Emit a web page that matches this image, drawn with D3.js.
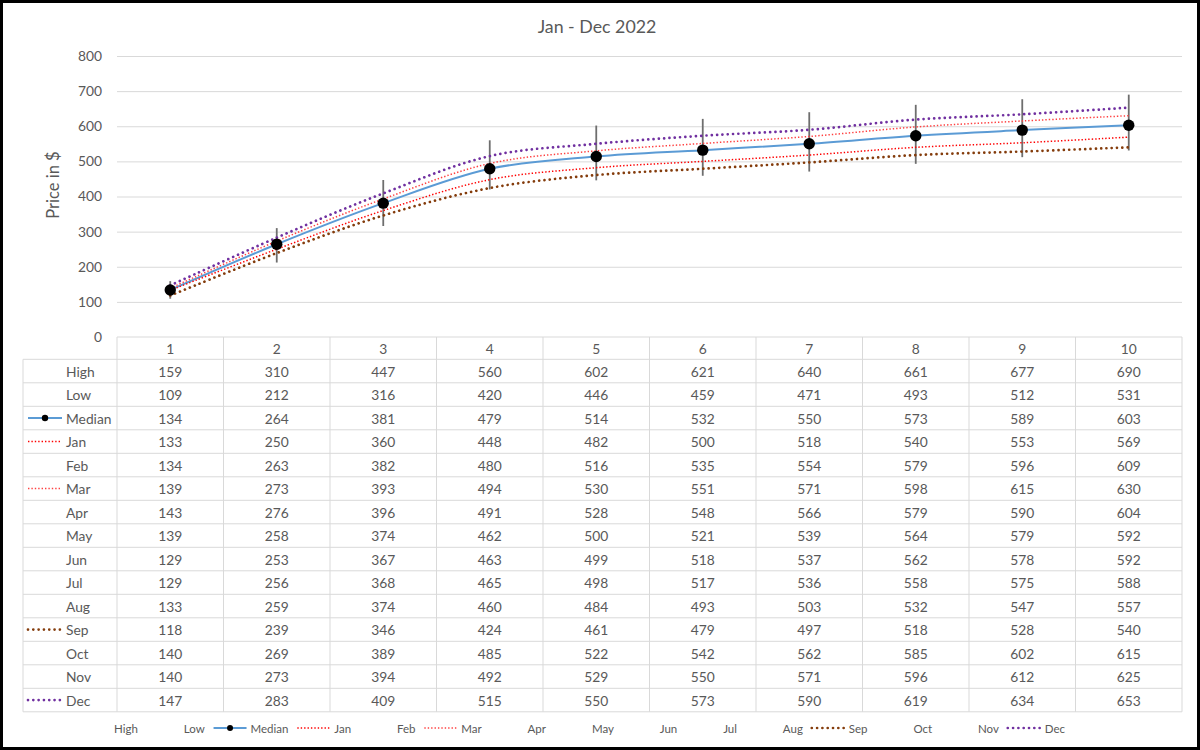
<!DOCTYPE html>
<html>
<head>
<meta charset="utf-8">
<script src="https://cdn.jsdelivr.net/npm/d3@7/dist/d3.min.js"></script>
<style>
  html, body { margin: 0; padding: 0; background: #fff; }
  svg { display: block; font-family: Lato, "Open Sans", sans-serif; }
</style>
</head>
<body>
<svg id="chart" width="1200" height="750"></svg>
<script>
// ---- data ----
const categories = [1, 2, 3, 4, 5, 6, 7, 8, 9, 10];
const high   = [159, 310, 447, 560, 602, 621, 640, 661, 677, 690];
const low    = [109, 212, 316, 420, 446, 459, 471, 493, 512, 531];
const median = [134, 264, 381, 479, 514, 532, 550, 573, 589, 603];
const jan = [133, 250, 360, 448, 482, 500, 518, 540, 553, 569];
const feb = [134, 263, 382, 480, 516, 535, 554, 579, 596, 609];
const mar = [139, 273, 393, 494, 530, 551, 571, 598, 615, 630];
const apr = [143, 276, 396, 491, 528, 548, 566, 579, 590, 604];
const may = [139, 258, 374, 462, 500, 521, 539, 564, 579, 592];
const jun = [129, 253, 367, 463, 499, 518, 537, 562, 578, 592];
const jul = [129, 256, 368, 465, 498, 517, 536, 558, 575, 588];
const aug = [133, 259, 374, 460, 484, 493, 503, 532, 547, 557];
const sep = [118, 239, 346, 424, 461, 479, 497, 518, 528, 540];
const oct = [140, 269, 389, 485, 522, 542, 562, 585, 602, 615];
const nov = [140, 273, 394, 492, 529, 550, 571, 596, 612, 625];
const dec = [147, 283, 409, 515, 550, 573, 590, 619, 634, 653];

const seriesNames = ['High', 'Low', 'Median', 'Jan', 'Feb', 'Mar', 'Apr', 'May',
                     'Jun', 'Jul', 'Aug', 'Sep', 'Oct', 'Nov', 'Dec'];
const seriesValues = [high, low, median, jan, feb, mar, apr, may,
                      jun, jul, aug, sep, oct, nov, dec];

// ---- styles (only the series that show a line) ----
const styles = {
  Median: { color: '#5B9BD5', width: 2,   dash: null,     cap: 'butt',  marker: true },
  Jan:    { color: '#FF0000', width: 1.5, dash: '1.4 2',  cap: 'butt',  marker: false },
  Mar:    { color: '#FF4040', width: 1.5, dash: '1.4 2',  cap: 'butt',  marker: false },
  Sep:    { color: '#843C0C', width: 2.7, dash: '0.01 5.3', cap: 'round', marker: false },
  Dec:    { color: '#7030A0', width: 2.7, dash: '0.01 5.3', cap: 'round', marker: false }
};

const GRID = '#D9D9D9';
const TEXT = '#595959';

const svg = d3.select('#chart');

// frame
svg.append('rect')
  .attr('x', 1.5).attr('y', 1.5)
  .attr('width', 1197).attr('height', 747)
  .attr('fill', '#fff').attr('stroke', '#000').attr('stroke-width', 3);

// ---- layout ----
const plotL = 117, plotR = 1182;
const plotT = 56,  plotB = 337;
const headL = 23;
const headerH = 22.3;
const rowH = 23.5;
const tableTop = plotB + headerH;
const tableBottom = tableTop + rowH * seriesNames.length;

const x = d3.scaleBand().domain(categories).range([plotL, plotR]).padding(0);
const y = d3.scaleLinear().domain([0, 800]).range([plotB, plotT]);
const cx = d => x(d) + x.bandwidth() / 2;

// title
svg.append('text')
  .attr('x', 597).attr('y', 25.5)
  .attr('text-anchor', 'middle').attr('dominant-baseline', 'central')
  .attr('font-size', 17.8).attr('fill', TEXT)
  .text('Jan - Dec 2022');

// y axis with gridlines
const yAxis = svg.append('g')
  .attr('transform', `translate(${plotL},0)`)
  .call(d3.axisLeft(y).tickValues(d3.range(0, 801, 100))
    .tickSize(-(plotR - plotL)).tickPadding(15));
yAxis.select('.domain').remove();
yAxis.selectAll('.tick line')
  .attr('stroke', GRID).attr('stroke-width', 1)
  .attr('display', d => d === 0 ? 'none' : null);
yAxis.selectAll('.tick text')
  .attr('fill', TEXT).attr('font-size', 13.8)
  .attr('font-family', 'Lato, sans-serif');

svg.append('text')
  .attr('transform', `translate(53,185) rotate(-90)`)
  .attr('text-anchor', 'middle').attr('dominant-baseline', 'central')
  .attr('font-size', 16.5).attr('fill', TEXT)
  .text('Price in $');

// ---- error bars (Low to High) ----
svg.append('g').selectAll('line')
  .data(categories)
  .join('line')
  .attr('x1', d => cx(d)).attr('x2', d => cx(d))
  .attr('y1', (d, i) => y(low[i])).attr('y2', (d, i) => y(high[i]))
  .attr('stroke', '#6E6E6E').attr('stroke-width', 1.8);

// ---- lines ----
const line = d3.line()
  .x((v, i) => cx(categories[i]))
  .y(v => y(v))
  .curve(d3.curveCatmullRom.alpha(0.5));

const lineG = svg.append('g');
seriesNames.forEach((name, si) => {
  const st = styles[name];
  if (!st) return;
  lineG.append('path')
    .datum(seriesValues[si])
    .attr('d', line)
    .attr('fill', 'none')
    .attr('stroke', st.color)
    .attr('stroke-width', st.width)
    .attr('stroke-linecap', st.cap)
    .attr('stroke-dasharray', st.dash);
});

// median markers
svg.append('g').selectAll('circle')
  .data(median)
  .join('circle')
  .attr('cx', (v, i) => cx(categories[i]))
  .attr('cy', v => y(v))
  .attr('r', 5.7)
  .attr('fill', '#000');

// ---- data table ----
const table = svg.append('g');

// horizontal lines
table.append('line')
  .attr('x1', plotL).attr('x2', plotR).attr('y1', plotB).attr('y2', plotB)
  .attr('stroke', GRID);
d3.range(seriesNames.length + 1).forEach(i => {
  const yy = tableTop + i * rowH;
  table.append('line')
    .attr('x1', headL).attr('x2', plotR).attr('y1', yy).attr('y2', yy)
    .attr('stroke', GRID);
});
// vertical lines
table.append('line')
  .attr('x1', headL).attr('x2', headL).attr('y1', tableTop).attr('y2', tableBottom)
  .attr('stroke', GRID);
categories.concat(['end']).forEach((c, i) => {
  const xx = i < categories.length ? x(c) : plotR;
  table.append('line')
    .attr('x1', xx).attr('x2', xx).attr('y1', plotB).attr('y2', tableBottom)
    .attr('stroke', GRID);
});

// header (category numbers)
table.selectAll('text.cat')
  .data(categories)
  .join('text')
  .attr('class', 'cat')
  .attr('x', d => cx(d)).attr('y', plotB + headerH / 2)
  .attr('text-anchor', 'middle').attr('dominant-baseline', 'central')
  .attr('font-size', 13.8).attr('fill', TEXT)
  .text(d => d);

// legend key drawing helper
function drawKey(g, name, x0, x1, yy, markerR) {
  const st = styles[name];
  if (!st) return;
  g.append('line')
    .attr('x1', x0).attr('x2', x1).attr('y1', yy).attr('y2', yy)
    .attr('stroke', st.color).attr('stroke-width', st.width)
    .attr('stroke-linecap', st.cap)
    .attr('stroke-dasharray', st.dash);
  if (st.marker) {
    g.append('circle')
      .attr('cx', (x0 + x1) / 2).attr('cy', yy).attr('r', markerR)
      .attr('fill', '#000');
  }
}

// rows
seriesNames.forEach((name, si) => {
  const yc = tableTop + si * rowH + rowH / 2;
  table.append('text')
    .attr('x', 66).attr('y', yc)
    .attr('dominant-baseline', 'central')
    .attr('font-size', 13.8).attr('fill', TEXT)
    .text(name);
  drawKey(table, name, 28, 62, yc, 3.2);
  table.selectAll(null)
    .data(seriesValues[si])
    .join('text')
    .attr('x', (v, i) => cx(categories[i])).attr('y', yc)
    .attr('text-anchor', 'middle').attr('dominant-baseline', 'central')
    .attr('font-size', 13.8).attr('fill', TEXT)
    .text(v => v);
});

// ---- bottom legend ----
const legY = 728;
const keyW = 33, keyGap = 4;
const legStart = 77, legEnd = 1065;
const legend = svg.append('g');
const legTexts = seriesNames.map(name =>
  legend.append('text')
    .attr('y', legY).attr('dominant-baseline', 'central')
    .attr('font-size', 11.5).attr('fill', TEXT)
    .text(name));
const widths = legTexts.map(t => t.node().getComputedTextLength());
const used = d3.sum(widths) + seriesNames.length * (keyW + keyGap);
const pad = (legEnd - legStart - used) / (seriesNames.length - 1);
let lx = legStart;
seriesNames.forEach((name, i) => {
  drawKey(legend, name, lx, lx + keyW, legY, 3);
  legTexts[i].attr('x', lx + keyW + keyGap);
  lx += keyW + keyGap + widths[i] + pad;
});
</script>
</body>
</html>
